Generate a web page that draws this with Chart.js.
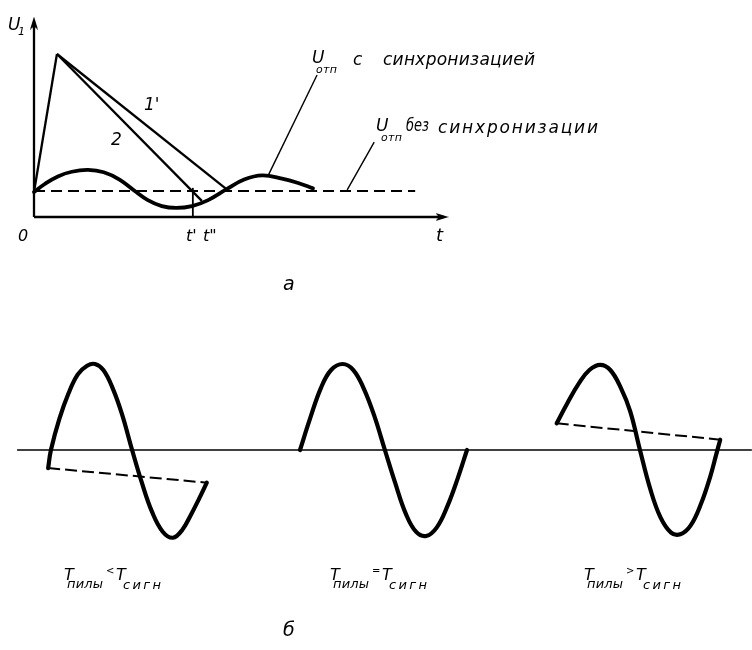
<!doctype html>
<html lang="ru">
<head>
<meta charset="utf-8">
<title>Синхронизация пилообразного напряжения</title>
<script src="https://cdn.jsdelivr.net/npm/chart.js@4.4.0/dist/chart.umd.min.js"></script>
<style>
  html, body { margin: 0; padding: 0; background: #fff; }
  #fig { display: block; background: #fff; }
</style>
</head>
<body>
<canvas id="fig" width="752" height="650"></canvas>
<script>
// ---- рис. а : t в четвертях периода сигнала, U1 в долях Uотп ----
var sawRiseT = [0, 0.51];
var sawRiseU = [0.96, 6.27];
var saw1T = [0.51, 4.27];          // кривая 1
var saw1U = [6.27, 1.08];
var saw2T = [0.51, 3.73];          // кривая 2
var saw2U = [6.27, 0.62];
var sigT = [0, 0.24, 0.53, 0.84, 1.2, 1.55, 1.9, 2.24, 2.53, 2.84, 3.16, 3.51, 3.87, 4.29, 4.67, 5.07, 5.51, 5.87, 6.2];
var sigU = [0.96, 1.27, 1.56, 1.74, 1.81, 1.72, 1.44, 1.0, 0.65, 0.42, 0.35, 0.42, 0.65, 1.08, 1.44, 1.6, 1.48, 1.31, 1.1];
var otpT = [0, 8.47];              // Uотп без синхронизации
var otpU = [1.0, 1.0];
var tickT = [3.53, 3.53];          // t'
var tickU = [0, 1.12];
var lead1T = [6.29, 5.2];
var lead1U = [5.46, 1.58];
var lead2T = [7.56, 6.96];
var lead2U = [2.88, 1.04];
var axXT = [0, 9.1], axXU = [0, 0];
var axYT = [0, 0], axYU = [0, 7.5];
var arrowT = [0, 9.07], arrowU = [7.46, 0];

// ---- рис. б : фаза сигнала (град), амплитуда (отн.) ----
var w1Ph = [-4, 2, 20, 40, 60, 80, 97, 115, 135, 155, 177, 198, 220, 243, 265, 285, 305, 322, 338];
var w1A  = [-0.21, 0, 0.36, 0.66, 0.88, 0.98, 1.0, 0.93, 0.72, 0.42, 0, -0.38, -0.72, -0.95, -1.02, -0.93, -0.74, -0.56, -0.38];
var w1SawPh = [-4, 338], w1SawA = [-0.21, -0.38];
var w2Ph = [0, 22, 45, 67, 92, 115, 137, 160, 183, 205, 228, 250, 272, 295, 318, 340, 360];
var w2A  = [0, 0.37, 0.72, 0.93, 1.0, 0.93, 0.72, 0.4, 0, -0.38, -0.74, -0.95, -1.0, -0.9, -0.65, -0.33, 0];
var w3Ph = [1.5, 25, 50, 72, 95, 117, 140, 160, 181, 203, 225, 248, 268, 290, 313, 333, 345, 354];
var w3A  = [0.31, 0.55, 0.78, 0.93, 0.99, 0.93, 0.72, 0.45, 0, -0.45, -0.78, -0.96, -0.98, -0.88, -0.62, -0.3, -0.06, 0.12];
var w3SawPh = [1.5, 354], w3SawA = [0.31, 0.12];
var axBPh = [-71, 1513], axBA = [0, 0];

// layout (pixels)
var W = 752, H = 650;
var A_X0 = 34, A_PX_T = 45, A_Y0 = 217, A_PX_U = 26;
var PANEL_X = [50, 300, 556], PX_DEG = 167 / 360, B_Y0 = 450, B_PX_A = 86;

function pts(xs, ys, off) {
  off = off || 0;
  return xs.map(function (x, i) { return { x: x + off, y: ys[i] }; });
}
function panelOff(k) { return (PANEL_X[k] - PANEL_X[0]) / PX_DEG; }

function lineA(xs, ys, width, extra) {
  var d = { data: pts(xs, ys), xAxisID: 'xa', yAxisID: 'ya', showLine: true,
    borderColor: '#000', borderWidth: width, pointRadius: 0, tension: 0, fill: false };
  return Object.assign(d, extra || {});
}
function lineB(xs, ys, k, width, extra) {
  var d = { data: pts(xs, ys, k == null ? 0 : panelOff(k)), xAxisID: 'xb', yAxisID: 'yb', showLine: true,
    borderColor: '#000', borderWidth: width, pointRadius: 0, tension: 0, fill: false };
  return Object.assign(d, extra || {});
}

function arrowHead(w, h) {
  var c = document.createElement('canvas');
  c.width = w; c.height = h;
  var g = c.getContext('2d');
  g.fillStyle = '#000';
  g.beginPath();
  g.moveTo(w / 2, 0); g.lineTo(w, h); g.lineTo(w / 2, h - 3); g.lineTo(0, h);
  g.closePath(); g.fill();
  return c;
}
var arrow = arrowHead(8, 13);

var smooth = { tension: 0.4, borderCapStyle: 'round', borderJoinStyle: 'round' };
var datasets = [
  lineA(axXT, axXU, 2.3),
  lineA(axYT, axYU, 2.3),
  { data: pts(arrowT, arrowU), xAxisID: 'xa', yAxisID: 'ya', showLine: false,
    pointStyle: arrow, pointRadius: 4, rotation: [0, 90], borderWidth: 0 },
  lineA(otpT, otpU, 2, { borderDash: [11, 6] }),
  lineA(sawRiseT, sawRiseU, 2.3),
  lineA(saw1T, saw1U, 2.3),
  lineA(saw2T, saw2U, 2.3),
  lineA(sigT, sigU, 3.8, smooth),
  lineA(tickT, tickU, 1.8),
  lineA(lead1T, lead1U, 1.4),
  lineA(lead2T, lead2U, 1.4),

  lineB(axBPh, axBA, null, 1.3),
  lineB(w1SawPh, w1SawA, 0, 2, { borderDash: [12, 5] }),
  lineB(w3SawPh, w3SawA, 2, 2, { borderDash: [12, 5] }),
  lineB(w1Ph, w1A, 0, 4.2, smooth),
  lineB(w2Ph, w2A, 1, 4.2, smooth),
  lineB(w3Ph, w3A, 2, 4.2, smooth)
];

// подписи
var FONT = '"DejaVu Sans", sans-serif';
var labels = [
  ['U', 8, 30, 17], ['1', 18, 35, 11],
  ['0', 18, 241, 16],
  ["t'", 186, 241, 16], ['t"', 203, 241, 16],
  ['t', 436, 241, 18],
  ["1'", 144, 110, 17], ['2', 111, 145, 17],
  ['U', 312, 63, 17], ['отп', 316, 73, 11, 21], ['с', 353, 65, 17], ['синхронизацией', 383, 65, 17, 152],
  ['U', 376, 131, 17], ['отп', 381, 141, 11, 21], ['без', 406, 131, 17, 23], ['синхронизации', 438, 133, 17, 160],
  ['а', 283, 290, 19],
  ['б', 283, 636, 19]
];
var ratios = [['<', 64], ['=', 330], ['>', 584]];

// текст заданной ширины: разрядка, а если тесно — сжатие
function txt(ctx, s, x, y, size, w) {
  ctx.save();
  ctx.font = 'italic ' + size + 'px ' + FONT;
  ctx.textBaseline = 'alphabetic';
  ctx.letterSpacing = '0px';
  ctx.translate(x, y);
  if (w) {
    var m = ctx.measureText(s).width;
    if (m > w) ctx.scale(w / m, 1);
    else if (s.length > 1) ctx.letterSpacing = ((w - m) / (s.length - 1)) + 'px';
  }
  ctx.fillText(s, 0, 0);
  ctx.restore();
}

var labelPlugin = {
  id: 'labels',
  afterDatasetsDraw: function (chart) {
    var ctx = chart.ctx;
    ctx.fillStyle = '#000';
    labels.forEach(function (l) { txt(ctx, l[0], l[1], l[2], l[3], l[4]); });
    ratios.forEach(function (r) {
      var x0 = r[1];
      txt(ctx, 'T', x0, 580, 16);
      txt(ctx, 'пилы', x0 + 3, 588, 13, 36);
      txt(ctx, r[0], x0 + 42, 574, 10);
      txt(ctx, 'T', x0 + 52, 580, 16);
      txt(ctx, 'сигн', x0 + 59, 589, 13, 38);
    });
  }
};

new Chart(document.getElementById('fig'), {
  type: 'scatter',
  data: { datasets: datasets },
  options: {
    responsive: false,
    animation: false,
    devicePixelRatio: 1,
    layout: { padding: 0, autoPadding: false },
    plugins: { legend: { display: false }, tooltip: { enabled: false } },
    scales: {
      xa: { type: 'linear', axis: 'x', display: false, min: -A_X0 / A_PX_T, max: (W - A_X0) / A_PX_T },
      ya: { type: 'linear', axis: 'y', display: false, min: -(H - A_Y0) / A_PX_U, max: A_Y0 / A_PX_U },
      xb: { type: 'linear', axis: 'x', display: false, min: -PANEL_X[0] / PX_DEG, max: (W - PANEL_X[0]) / PX_DEG },
      yb: { type: 'linear', axis: 'y', display: false, min: -(H - B_Y0) / B_PX_A, max: B_Y0 / B_PX_A }
    }
  },
  plugins: [labelPlugin]
});
</script>
</body>
</html>
